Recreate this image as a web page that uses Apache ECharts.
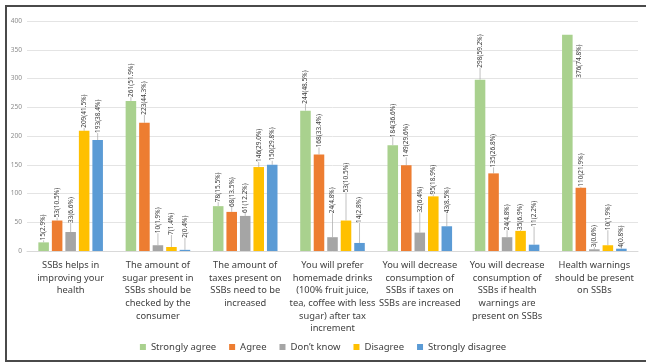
<!DOCTYPE html>
<html>
<head>
<meta charset="utf-8">
<script src="https://cdn.jsdelivr.net/npm/echarts@6/dist/echarts.min.js"></script>
<style>
  html, body { margin: 0; padding: 0; background: #fff; }
  #wrap { position: relative; width: 646px; height: 364px; overflow: hidden; }
  #frame { position: absolute; left: 5px; top: 5px; width: 650px; height: 357px;
           border-left: 2px solid #4a4a4a; border-top: 2px solid #4a4a4a; border-bottom: 2px solid #4a4a4a;
           box-sizing: border-box; pointer-events: none; }
  #chart { position: absolute; left: 0; top: 0; width: 646px; height: 364px; }
</style>
</head>
<body>
<div id="wrap">
  <div id="chart"></div>
  <div id="frame"></div>
</div>
<script>
// Survey statements about sugar-sweetened beverages (SSBs)
const categories = [
  'SSBs helps in\nimproving your\nhealth',
  'The amount of\nsugar present in\nSSBs should be\nchecked by the\nconsumer',
  'The amount of\ntaxes present on\nSSBs need to be\nincreased',
  'You will prefer\nhomemade drinks\n(100% fruit juice,\ntea, coffee with less\nsugar) after tax\nincrement',
  'You will decrease\nconsumption of\nSSBs if taxes on\nSSBs are increased',
  'You will decrease\nconsumption of\nSSBs if health\nwarnings are\npresent on SSBs',
  'Health warnings\nshould be present\non SSBs'
];

const seriesNames = ['Strongly agree', 'Agree', 'Don’t know', 'Disagree', 'Strongly disagree'];

// Response counts per statement
const stronglyAgree    = [15, 261, 78, 244, 184, 298, 376];
const agree            = [53, 223, 68, 168, 149, 135, 110];
const dontKnow         = [33, 10, 61, 24, 32, 24, 3];
const disagree         = [209, 7, 146, 53, 95, 35, 10];
const stronglyDisagree = [193, 2, 150, 14, 43, 11, 4];

// Share of respondents (%)
const stronglyAgreePct    = ['2.9', '51.9', '15.5', '48.5', '36.6', '59.2', '74.8'];
const agreePct            = ['10.5', '44.3', '13.5', '33.4', '29.6', '26.8', '21.9'];
const dontKnowPct         = ['6.6', '1.9', '12.2', '4.8', '6.4', '4.8', '0.6'];
const disagreePct         = ['41.5', '1.4', '29.0', '10.5', '18.9', '6.9', '1.9'];
const stronglyDisagreePct = ['38.4', '0.4', '29.8', '2.8', '8.5', '2.2', '0.8'];

const yTicks = { min: 0, max: 400, interval: 50 };

const values = [stronglyAgree, agree, dontKnow, disagree, stronglyDisagree];
const pcts = [stronglyAgreePct, agreePct, dontKnowPct, disagreePct, stronglyDisagreePct];
const colors = ['#a9d18e', '#ed7d31', '#a5a5a5', '#ffc000', '#5b9bd5'];

// How far each value label sits above its bar (px); leader lines connect them
const labelLift = [
  [2, 4, 4, 7, 8, 12, 0],
  [3, 8, 5, 7, 8, 6, 1],
  [9, 12, 3, 24, 20, 7, 2],
  [3, 12, 5, 28, 2, 1, 15],
  [7, 12, 4, 20, 13, 18, 1]
];

const FONT = '"Noto Sans", "Liberation Sans", sans-serif';

const chart = echarts.init(document.getElementById('chart'), null, { renderer: 'canvas' });

const series = values.map((vals, si) => ({
  name: seriesNames[si],
  type: 'bar',
  data: vals,
  barGap: '28%',
  barCategoryGap: '26%',
  itemStyle: { color: colors[si] },
  label: {
    show: true,
    position: 'top',
    distance: 0,
    rotate: 90,
    fontFamily: FONT,
    fontSize: 6.5,
    color: '#404040',
    formatter: p => p.value + '(' + pcts[si][p.dataIndex] + '%)'
  },
  labelLine: {
    show: true,
    lineStyle: { color: '#a6a6a6', width: 0.7 }
  },
  labelLayout: function (p) {
    const r = p.rect;
    const cx = r.x + r.width / 2;
    const top = r.y;
    // The tallest bar keeps its label beside it, pointing back to its top
    if (si === 0 && p.dataIndex === 6) {
      return {
        x: cx + 12, y: top + 43, rotate: 90, align: 'left', verticalAlign: 'middle',
        labelLinePoints: [[cx - 1, top], [cx + 6, top + 25], [cx + 9, top + 25]]
      };
    }
    const lift = labelLift[si][p.dataIndex];
    const lineEnd = lift > 4 ? top - lift : top;
    return {
      x: cx, y: top - lift,
      rotate: 90, align: 'left', verticalAlign: 'middle',
      labelLinePoints: [[cx, top], [cx, lineEnd], [cx, lineEnd]]
    };
  }
}));

chart.setOption({
  animation: false,
  backgroundColor: '#ffffff',
  textStyle: { fontFamily: FONT },
  grid: { left: 27, right: 8, top: 21, bottom: 113, containLabel: false },
  legend: {
    data: seriesNames,
    bottom: 7,
    left: 'center',
    icon: 'rect',
    itemWidth: 6,
    itemHeight: 6,
    itemGap: 13,
    textStyle: { fontFamily: FONT, fontSize: 9.5, color: '#404040' }
  },
  xAxis: {
    type: 'category',
    data: categories,
    axisTick: { show: false },
    axisLine: { lineStyle: { color: '#d9d9d9', width: 1 } },
    axisLabel: {
      interval: 0,
      margin: 8,
      fontFamily: FONT,
      fontSize: 9.3,
      lineHeight: 12.7,
      color: '#404040'
    }
  },
  yAxis: {
    type: 'value',
    min: yTicks.min,
    max: yTicks.max,
    interval: yTicks.interval,
    axisLine: { show: false },
    axisTick: { show: false },
    axisLabel: { fontFamily: FONT, fontSize: 6.5, color: '#8c8c8c', margin: 5 },
    splitLine: { lineStyle: { color: '#e4e4e4', width: 1 } }
  },
  series: series
});
</script>
</body>
</html>
